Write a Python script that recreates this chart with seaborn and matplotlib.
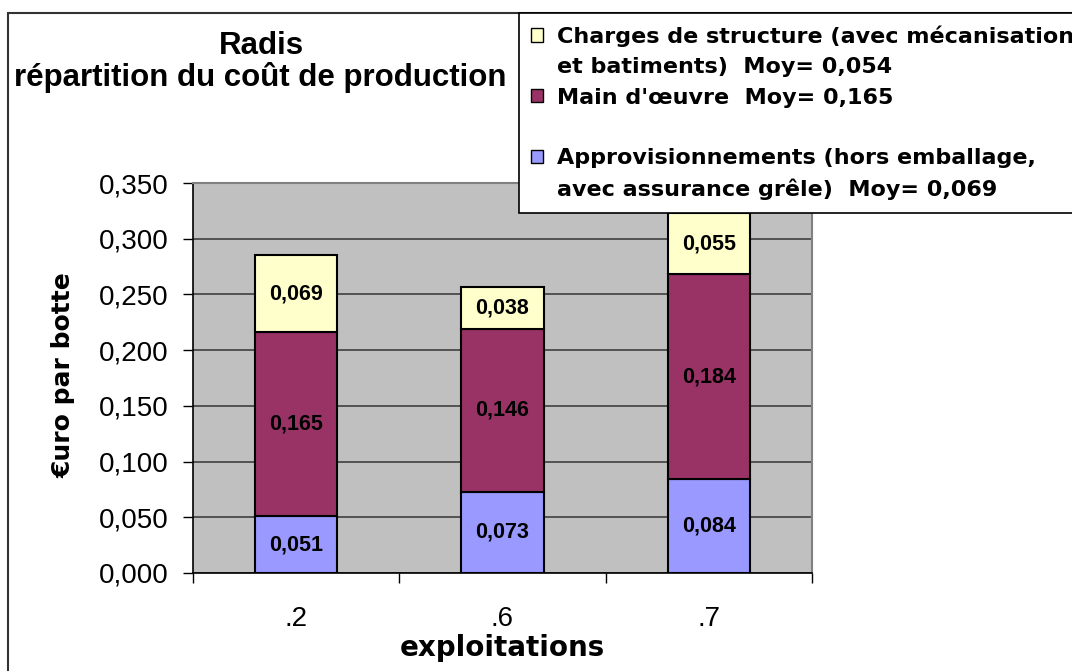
import matplotlib
matplotlib.use("Agg")
import matplotlib.pyplot as plt
import seaborn as sns
import numpy as np
from matplotlib.patches import Patch, Rectangle
from matplotlib.ticker import FuncFormatter

# ---------------- data ----------------
exploitations = [".2", ".6", ".7"]
approvisionnements = [0.051, 0.073, 0.084]
main_oeuvre = [0.165, 0.146, 0.184]
charges_structure = [0.069, 0.038, 0.055]

legend_rows = [
    "Charges de structure (avec mécanisation",
    "et batiments)  Moy= 0,054",
    "Main d'œuvre  Moy= 0,165",
    " ",
    "Approvisionnements (hors emballage,",
    "avec assurance grêle)  Moy= 0,069",
]
y_ticks = [0.0, 0.05, 0.10, 0.15, 0.20, 0.25, 0.30, 0.35]

c_appro = "#9999FF"
c_main = "#993366"
c_charges = "#FFFFCC"

# ---------------- style ----------------
sns.set_theme(style="white")
plt.rcParams["font.family"] = ["Liberation Sans", "DejaVu Sans"]
plt.rcParams["text.color"] = "black"
plt.rcParams["axes.labelcolor"] = "black"
plt.rcParams["xtick.color"] = "black"
plt.rcParams["ytick.color"] = "black"

W, H = 1072, 671
fig = plt.figure(figsize=(W / 100, H / 100), dpi=100)
fig.patch.set_facecolor("white")

ax = fig.add_axes([193 / W, 1 - 573 / H, 619 / W, 390 / H])
ax.set_facecolor("#C0C0C0")
ax.set_axisbelow(True)

bottom1 = np.array(approvisionnements)
bottom2 = bottom1 + np.array(main_oeuvre)

common = dict(width=0.4, saturation=1, edgecolor="black", linewidth=1.5,
              errorbar=None, ax=ax)
sns.barplot(x=exploitations, y=approvisionnements, color=c_appro, **common)
sns.barplot(x=exploitations, y=main_oeuvre, bottom=bottom1, color=c_main, **common)
sns.barplot(x=exploitations, y=charges_structure, bottom=bottom2, color=c_charges, **common)

fmt = lambda v: f"{v:.3f}".replace(".", ",")
for cont, vals in zip(ax.containers, [approvisionnements, main_oeuvre, charges_structure]):
    ax.bar_label(cont, labels=[fmt(v) for v in vals], label_type="center",
                 fontsize=15.5, fontweight="bold", color="black")

# axes
ax.set_ylim(0, 0.35)
ax.set_xlim(-0.5, 2.5)
ax.set_yticks(y_ticks)
ax.yaxis.set_major_formatter(FuncFormatter(lambda v, p: fmt(v)))
ax.yaxis.grid(True, color="#404040", linewidth=1.2)
ax.xaxis.grid(False)

ax.set_xticks([-0.5, 0.5, 1.5, 2.5], minor=True)
ax.tick_params(axis="x", which="major", bottom=True, length=0, pad=24, labelsize=20,
               labelcolor="black")
ax.tick_params(axis="x", which="minor", bottom=True, length=7.2, width=1, color="black",
               direction="out")
ax.tick_params(axis="y", which="major", left=True, length=7.2, width=1, color="black",
               direction="out", pad=10.5, labelsize=20, labelcolor="black")

for s in ["left", "bottom"]:
    ax.spines[s].set_color("black")
    ax.spines[s].set_linewidth(1.2)
for s in ["top", "right"]:
    ax.spines[s].set_color("#808080")
    ax.spines[s].set_linewidth(1.5)

ax.set_xlabel("exploitations", fontsize=20, fontweight="bold", family=["DejaVu Sans"],
              va="center", color="black")
ax.xaxis.set_label_coords(0.5, (573 - 648) / 390)
ax.set_ylabel("€uro par botte", fontsize=18, fontweight="bold", family=["DejaVu Sans"],
              va="center", color="black")
ax.yaxis.set_label_coords((64 - 193) / 619, (573 - 375) / 390)

# title
fig.text(261 / W, 1 - 54 / H, "Radis", ha="center", va="baseline",
         fontsize=22.5, fontweight="bold", color="black")
fig.text(260 / W, 1 - 86 / H, "répartition du coût de production", ha="center",
         va="baseline", fontsize=22.5, fontweight="bold", color="black")

# legend
invisible = Patch(facecolor="none", edgecolor="none")
handles = [
    Patch(facecolor=c_charges, edgecolor="black", linewidth=1),
    invisible,
    Patch(facecolor=c_main, edgecolor="black", linewidth=1),
    invisible,
    Patch(facecolor=c_appro, edgecolor="black", linewidth=1),
    invisible,
]
leg = fig.legend(handles, legend_rows, loc="upper left",
                 bbox_to_anchor=(519 / W, 1 - 13 / H), bbox_transform=fig.transFigure,
                 frameon=True, fancybox=False, edgecolor="black", framealpha=1,
                 borderaxespad=0, borderpad=0.55, handlelength=0.55, handleheight=0.55,
                 handletextpad=0.6, labelspacing=0.47,
                 prop={"family": "DejaVu Sans", "weight": "bold", "size": 16})
for t in leg.get_texts():
    t.set_color("black")
leg.get_frame().set_linewidth(1.2)

# outer chart border
fig.add_artist(Rectangle((8 / W, -0.05), 1.2, 1 - 13 / H + 0.05,
                         transform=fig.transFigure, fill=False,
                         edgecolor="#333333", linewidth=1.5))

fig.savefig("out.png", dpi=100)
